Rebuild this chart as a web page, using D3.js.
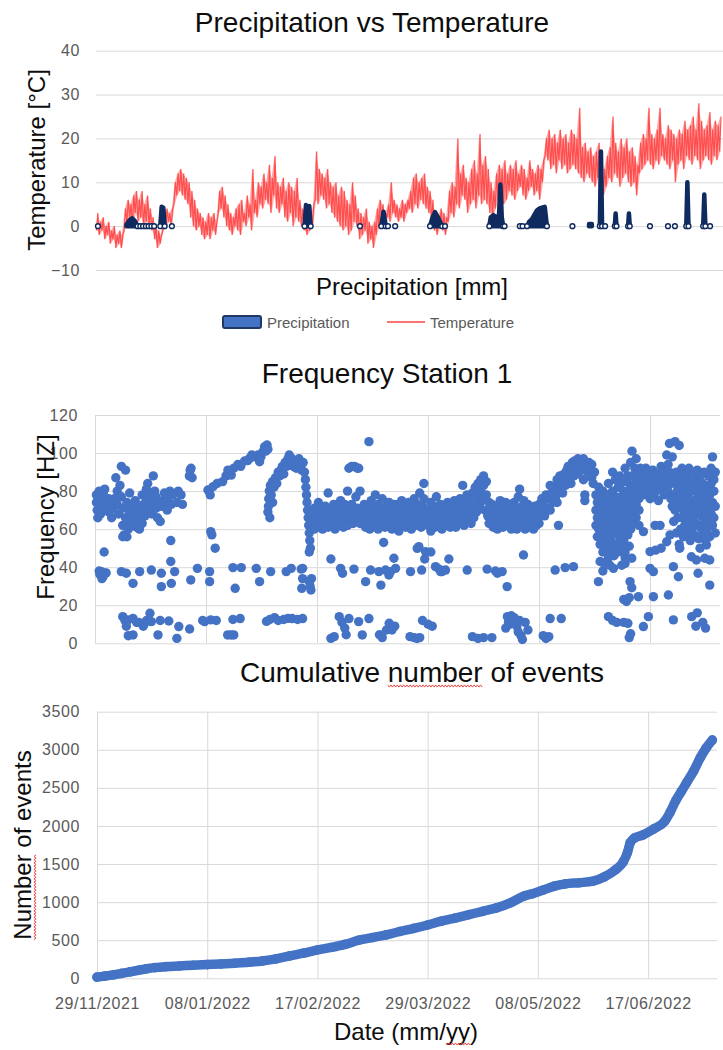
<!DOCTYPE html>
<html>
<head>
<meta charset="utf-8">
<script src="https://cdn.jsdelivr.net/npm/d3@7"></script>
<style>
  body { margin: 0; background: #fff; }
  svg { display: block; }
</style>
</head>
<body>
<div id="chart"></div>
<script>
var startDate = new Date(2021, 10, 29);

// daily temperature range (°C), one value per day from 29/11/2021
var tempLow = [
  -1,-2,-1,-3,-2,-4,-3,-5,-4,-5,  -1,1,2,0,3,1,2,0,1,0,  -1,-3,-5,-4,-1,0,1,0,5,7,
  8,7,6,5,2,0,-1,0,-2,-3,  -2,-3,-1,-2,3,4,2,0,-1,-2,  0,-1,-2,1,0,2,-1,3,2,5,
  4,6,5,3,7,4,3,5,2,1,  3,0,2,1,0,-1,-2,-1,0,6,  5,7,6,4,5,3,2,1,0,-1,
  0,-2,-1,1,0,-3,-2,-1,-4,-3,  -5,-2,0,1,0,2,1,3,2,1,  2,1,3,4,3,5,4,6,5,4,
  3,1,-1,-2,0,-1,-2,1,3,2,  5,4,7,6,3,5,6,4,7,5,  6,5,3,2,4,6,7,5,6,8,
  7,6,8,9,7,6,8,9,7,8,  6,10,16,15,13,14,12,15,13,14,  12,13,14,13,12,11,10,12,11,10,
  9,11,8,7,9,11,10,12,11,9,  11,12,10,9,10,7,12,13,14,15,  14,13,15,14,16,15,14,13,15,10,
  14,15,13,16,15,14,16,15,13,15,  16,15,14,16,15,17
];
var tempHigh = [
  3,1,2,0,1,-1,0,-2,-1,-2,  4,6,5,7,8,6,8,5,7,4,  2,0,-1,-2,3,4,3,4,10,12,
  13,12,11,10,8,6,4,3,2,1,  3,2,3,1,8,9,7,5,3,2,  4,5,6,3,7,5,13,6,10,9,
  12,10,14,11,16,10,9,11,8,10,  9,8,11,6,4,3,2,1,5,17,  13,12,11,13,10,9,10,7,9,8,
  6,5,10,7,4,3,2,4,1,0,  1,4,6,5,3,5,10,6,5,4,  6,5,6,8,11,12,10,11,12,9,
  8,6,3,2,4,3,2,8,10,9,  20,12,14,11,10,13,15,12,21,14,  16,13,10,8,12,14,13,15,12,14,
  13,15,12,14,13,11,15,13,12,14,  13,15,20,22,20,21,19,22,20,21,  19,22,21,20,27,18,19,17,18,16,
  17,19,15,13,16,18,25,19,17,20,  18,20,17,18,16,14,19,21,20,27,  21,20,22,27,21,20,23,22,21,20,
  22,21,24,22,23,25,22,28,24,22,  23,26,22,24,23,25
];

// precipitation readings [day, mm]
var precipitation = [
  [0.7,0],
  [11,0.3],[12,1.3],[13,1.8],[14,1.2],[15,0],[16,0],[17,0],[18,0],[19,0],[20,0],[21,0],
  [23.2,0],[23.7,4.4],[24.3,4.2],[24.8,0],
  [27.4,0],
  [75.3,0],[75.8,4.8],[77,4.6],[77.5,0],
  [95.3,0],
  [103,0],[103.8,3.3],[104.6,0],[105.4,0],
  [108,0],
  [120.6,0],[121.5,2],[122.4,3.2],[123.3,2.2],[124.2,1],[125,0],[126,0],
  [142,0],[142.5,2],[143.5,2.5],[144.5,2],[145.5,2.5],[146,9.5],[146.5,2],[147,0],[147.5,0],
  [153,0],[154,0],
  [155.6,0],[156.4,1],[157.3,1.5],[158.2,2.5],[159.1,3.5],[160,4],[161,4.2],[162,4.4],[162.8,0],
  [172,0],
  [178,0.5],[179,0.5],
  [181.9,0],[182.3,17],[182.7,0],[183.8,0],
  [187.3,0],[187.6,2.9],[187.9,0],
  [192.1,0],[192.4,2.9],[192.7,0],
  [200,0],
  [206.5,0],[209,0],
  [213.1,0],[213.5,10],[213.9,0],
  [219.2,0],[219.6,7.2],[220,0],[221.7,0]
];

// station 1 frequency readings [day, Hz]
var freqUpper = [
  [0.5,78],[0.5,74],[0.8,70],[1,66],[1.2,76],[1.5,80],[2,72],[2,68],[2.5,77],[3,73],[3,79],[3.5,81],[4,75],[4.5,70],[5,76],[5,69],[5.5,73],[6,66],[6.5,71],[7,76],
  [7.5,87],[8,80],[8,73],[8.5,68],[9,83],[9.5,93],[9.5,77],[10,71],[10,62],[10.5,57],[11,91],[11,66],[11.5,56],[11.5,74],[12,60],[12,64],[12.5,69],[12.5,79],
  [13,72],[13,62],[13.5,67],[14,70],[14,64],[14.5,75],[15,61],[15,68],[15.5,72],[16,60],[16,66],[16.5,70],[17,78],[17,63],[17.5,73],[18,67],[18.5,81],[18.5,75],
  [19,84],[19,70],[19.5,78],[20,76],[20,72],[20.5,68],[21,88],[21,74],[21.5,80],[22,71],[22,77],[22.5,66],[23,73],[23.5,64],[24,72],[24.5,75],[25,79],[25.5,74],
  [26,70],[26.5,77],[27,80],[27.5,73],[28,78],[29.5,74],[30,80],[31,78],[31.5,73],[34,88],[34.3,91],[34.6,92],[35,87],
  [3.3,48],[10,56],[27.3,54],[41.7,58.7],[42.1,57],[43.3,50],
  [40.7,80.6],[41.5,78],[42.5,82.3],[44,84],[46,85],[47.2,88],[47.9,91],[49.1,88.4],[50,92],[51.5,94],[52.5,93],[53.9,95.8],[55,96],[55.7,97.2],[56.5,99],
  [57.5,98],[58.7,99],[59.3,95.4],[59.8,98],[60.5,100.7],[61.1,103.3],[61.5,101],[62,104.2],[62.3,102],
  [62.3,69],[62.5,72],[62.6,76],[62.8,80],[63,66],[63.2,83],[63.5,78],[64,85],[64,74],[64.5,82],[65,87],[65.5,84],[66,90],[66.5,88],[67,91],[67.5,93],[68,89],
  [68.5,95],[69,93],[69.5,97],[70,99],[70.5,95],[71,97],[71.5,93],[72,96],[72.5,92],[73,95],[73.5,97],[74,93],[74.5,91],[75,95],[75.5,90],[75.8,86],[76,82],
  [76.2,78],[76.4,74],[76.6,70],[76.8,66],[77,62],[77.2,58],[77.4,54],[77.6,50],
  [78,62],[78,68],[78.5,65],[79,60],[79,71],[79.5,66],[80,63],[80,69],[80.5,74],[81,61],[81,67],[81.5,64],[82,70],[82,60],[82.5,66],[83,63],[83,72],[83.5,68],
  [84,79],[84,61],[84.5,65],[85,70],[85,62],[85.5,67],[86,73],[86,64],[86.5,60],[87,69],[87,65],[87.5,72],[88,62],[88,67],[88.5,75],[89,64],[89,70],[89.5,61],
  [90,68],[90,73],[90.5,65],[91,80],[91,62],[91.5,70],[91.5,92],[92,66],[92.5,93],[92.5,73],[93,63],[93.5,69],[93.5,93],[94,77],[94,65],[94.5,71],[94.5,92],
  [95,67],[95,92],[95.5,80],[95.5,63],[96,70],[96.5,66],[97,73],[98.7,106],
  [97.5,61],[98,67],[98,72],[98.5,64],[99,69],[99,60],[99.5,75],[100,66],[100,62],[100.5,71],[101,78],[101,64],[101.5,68],[102,60],[102,73],[102.5,66],
  [103,70],[103,63],[103.5,76],[104,67],[104,53],[104.5,61],[105,72],[105,65],[105.5,69],[106,62],[106,74],[106.5,66],[107,70],[107,60],[107.5,64],[108,68],
  [108,73],[108.5,62],[109,66],[109,71],[109.5,59],[110,64],[110,69],[110.5,75],[111,62],[111,67],[111.5,72],[112,65],[112,61],[112.5,69],[113,74],[113,63],
  [113.5,67],[114,71],[114,60],[114.5,65],[115,70],[115,76],[115.5,62],[116,68],[116,73],[116.5,64],[117,79],[117,69],[117.5,61],[118,72],[118,66],[118.5,84],
  [118.5,76],[119,63],[119,70],[119.5,67],
  [120,62],[120,70],[120.5,66],[121,74],[121,59],[121.5,68],[122,64],[122,72],[122.5,61],[123,67],[123,77],[123.5,70],[124,63],[124,66],[124.5,73],[125,60],
  [125,69],[125.5,65],[126,71],[126,62],[126.5,67],[127,74],[127,64],[127.5,69],[128,61],[128,72],[128.5,66],[129,70],[129,63],[129.5,75],[130,67],[130,61],
  [130.5,72],[131,65],[131,69],[131.5,76],[132,63],[132,71],[132.5,83],[132.5,67],[133,74],[133,62],[133.5,69],[134,78],[134,65],[134.5,72],[135,68],[135,75],
  [135.5,63],[136,79],[136,70],[136.5,66],[137,74],[137,82],[137.5,69],[138,77],[138,84],[138.5,72],[139,80],[139,86],[139.5,75],[140,83],[140,88],[140.5,70],
  [141,78],[141,85],[141.5,67],[142,74],[142,63],[142.5,70],[143,66],[143,73],[143.5,61],[144,69],[144,64],[144.5,72],[145,67],[145,60],[145.5,70],[146,63],
  [146,75],[146.5,66],[147,61],[147,71],[147.5,68],[148,64],[148,74],[148.5,70],[149,62],[149,67],[149.5,73],[150,65],[150,60],
  [150.5,70],[151,63],[151,74],[151.5,67],[152,60],[152,71],[152.5,77],[153,64],[153,81],[153.5,68],[154,72],[154,62],[154.5,75],[155,66],[155,60],[155.5,70],
  [156,63],[156,73],[156.5,67],[157,61],[157,70],[157.5,64],[158,68],[158,60],[158.5,72],[159,65],[159,62],[159.5,69],[160,63],[160,73],[160.5,67],[161,70],
  [161,76],[161.5,73],[162,67],[162.5,78],[163,71],[163.5,76],[164,83],[164,70],[164.5,79],[165,74],[165.5,82],[166,77],[166.5,86],[166.5,74],[167,62],[167,81],
  [167.5,88],[168,84],[168.5,79],[169,89],[169.5,83],[170,91],[170,86],[170.5,93],[171,88],[171.5,84],[172,91],[172,95],[172.5,88],[173,96],[173.5,92],[174,97],
  [174,89],[174.5,94],[175,96],[175.5,91],[176,97],[176,86],[176.5,78],[176.5,75],[177,94],[177.5,90],[178,95],[178.5,92],[179,94],[179,87],[179.5,84],[180,90],
  [180.5,62],[180.5,70],[180.5,78],[181,56],[181,66],[181,74],[181.5,60],[181.5,82],[182,52],[182,64],[182,70],[182,77],[182.5,58],[183,48],[183,62],[183,68],
  [183,74],[183,80],[183.5,55],[184,51],[184,60],[184,66],[184,72],[184.5,78],[185,47],[185,57],[185,63],[185,69],[185,84],[185.5,75],[186,50],[186,54],
  [186,61],[186,67],[186,73],[186.5,80],[186.5,90],[187,46],[187,58],[187,64],[187,70],[187.5,77],[187.5,86],[188,52],[188,60],[188,67],[188,74],[188.5,82],
  [188.5,48],[189,56],[189,63],[189,70],[189,88],[189.5,77],[189.5,84],[190,50],[190,59],[190,66],[190,73],[190.5,80],[190.5,54],[191,45],[191,62],[191,69],
  [191,92],[191.5,76],[191.5,85],[192,57],[192,64],[192,72],[192,88],[192.5,51],[192.5,79],[193,60],[193,67],[193,82],[193,95],[193.5,101],[193.5,74],[193.5,88],
  [194,63],[194,70],[194,78],[194.5,92],[194.5,84],[195,97],[195,66],[195,73],[195.5,80],[195.5,88],[196,70],[196,62],[196,76],[196.5,86],[196.5,92],
  [197,84],[197,90],[197.5,78],[198,88],[198,82],[198.5,92],[199,86],[199,79],[199.5,90],[200,84],[200,76],[200.5,88],[201,82],[201,91],[201.5,77],[202,86],
  [202,80],[202.5,89],[203,84],[203,75],[203.5,88],[204,81],[204,93],[204.5,86],[205,78],[205,90],[205.5,84],[206,99],[206,88],[206.5,80],[206.5,94],[207,105],
  [207,90],[207.5,84],[207.5,76],[208,98],[208,88],[208,72],
  [197.6,58.7],[201.8,62],[203.6,62],[200,48.2],[202,49],[204,50],[206,53.4],[207.2,57],
  [208.5,78],[208.5,64],[209,106],[209,84],[209,70],[209.5,58],[209.5,90],[210,75],[210,66],[210,81],[210.5,104],[210.5,52],[210.5,87],[211,60],[211,72],[211,78],
  [211.5,92],[211.5,66],[212,56],[212,84],[212,70],[212.5,62],[212.5,76],[212.5,90],[213,81],[213,67],[213.5,58],[213.5,73],[213.5,87],[214,63],[214,79],[214,92],
  [214.5,69],[214.5,54],[215,84],[215,75],[215,60],[215.5,66],[215.5,90],[216,72],[216,80],[216,57],[216.5,86],[216.5,63],[217,69],[217,76],[217,91],[217.5,82],
  [217.5,55],[218,61],[218,73],[218,88],[218.5,67],[218.5,79],[219,58],[219,84],[219,72],[219.5,64],[219.5,90],[220,76],[220,68],[220,54],[220.5,82],[220.5,60],
  [221,88],[221,72],[221,64],[221.5,78],[221.5,56],[222,84],[222,68],[222,92],[222.5,74],[222.5,98],[222.5,62],[223,80],[223,86],[223,66],[223.5,72],[223.5,58],
  [223.5,90],[210.7,50],[220.3,51.7],[218,50]
];
var freqMiddle = [
  [1.5,38],[1.7,36.3],[2.3,37.7],[2.5,34],[2.9,35],[3.5,36.8],[4,37],[9.5,37.7],[11.3,36.8],[13.7,31.5],[16.1,37.7],[20.3,38.5],[23.9,36.8],[23.9,29.8],
  [27.3,43],[27.5,31.5],[28.7,37.7],[34.5,33.3],[36.9,39.4],[41.3,37.7],[41.3,32.4],[49.7,39.8],[52.7,39.8],[50.5,28.9],[58.1,39.4],[59.3,32.4],[63.3,37.7],
  [68.9,37.7],[70.7,39.4],[74.3,39],[74.5,28.9],
  [74.8,39.4],[74.8,34],[77.2,32.4],[77.8,28],[77.5,30],[78,34],[77.2,48],[85,44.3],[88.5,39.4],[89.2,36.8],[93.3,39],[97.5,32.4],[99.3,38.5],[102.3,37.7],
  [103,30.6],[104.7,38.5],[105.9,35.9],[106.5,37.7],[107.7,44.7],[108.3,39.4],[113.7,37.7],[116.1,49.9],[116.7,50.8],[117.7,38.5],[118.8,44.3],[119.1,48.2],
  [121,48],[122.7,40.3],[124,39],[124.5,37.7],[125,37.7],[126.3,38.5],[127.5,44.3],[134.1,38.5],[141.3,39],[144.3,38],[145,36.8],[146.7,37.7],[148.5,29.8],
  [154.4,46.4],[165.8,38.5],[169.4,39.8],[172.4,40.3],
  [181.4,32.4],[182,43],[183,38],[183.8,41],[184.4,43],[185,45],[185.5,41],[186.8,39.4],[189.8,41],[191,42],[191,48],[193.4,44.7],[192.8,32.4],[193.4,29.2],
  [190.5,23],[191.5,22],[192.5,24],[195.8,24.5],[201.2,24.5],[206.6,25.4],[200,39.4],[201.2,37.7],[208.4,40.3],[210.2,35],[214.9,45.5],[216.7,43.8],
  [217.3,36.8],[219.7,44.7],[221.5,43.8],[221.5,30.6]
];
var freqLower = [
  [10,14],[10.8,12],[11.3,9],[11.9,12.3],[12,4],[13.7,13.1],[13.7,4.4],[15,11],[15.8,11],[17.4,9],[17.9,10.5],[18.6,12],[19.8,15.8],[20.3,11.4],[22.7,4.4],
  [23.5,12],[26.6,11.7],[29.5,2.6],[30.2,8.8],[34.1,7.5],[38.8,12],[39.5,11.4],[41.7,12.3],[43.7,12],[47.8,4.4],[49,4.4],[50,4.4],[49.7,12.5],[52.3,13],
  [61.8,11.5],[63,12.5],[64.7,13.5],[66,12],[68,12.5],[69.5,13.1],[71,13],[73,12.5],
  [74.8,13],[85,2.6],[86.2,3.5],[88,14],[89,11],[90,8],[90.5,4.5],[91.5,13],[95,11.4],[96.3,4.4],[98.7,13],[102.5,4.5],[103.5,3],[105,7],[106,10.5],[107,7],
  [108,9],[113.5,3.5],[115,3],[116,2.5],[117,3],[118,12],[120,10],[121.5,9],[136,3.5],[138,2.5],[140,3],[143,3],[148,8],[149,11],[150,14.5],
  [148.6,14],[149.5,10],[151,13.5],[152,9],[152.5,6],[153,12],[153.5,4],[154,2],[155,11],[156,7],[161.5,4],[162.5,2.5],[163.5,3.5],[164,13],[168,13],
  [185,14],[186.5,12],[188,11],[190.5,11],[192,10.5],[192.5,3],[193,5],[197.6,8.8],[199.4,14],[208.4,12.3],[215,14],[217,16],[216.5,9],[219,11],[220,8]
];

// cumulative number of events
var cumDays = [0,3,6,9,12,15,18,21,25,30,35,40,45,50,55,60,65,70,75,80,85,90,95,100,105,110,115,120,125,130,135,140,145,150,155,158,
  162,166,170,175,180,184,188,191,192.5,193.5,195,198,202,206,208,210,212,214,216.5,219,221,223.3];
var cumEvents = [15,30,45,65,85,105,125,140,153,162,172,180,188,198,210,228,255,295,330,372,405,445,500,535,570,615,655,700,750,790,835,880,925,990,1080,1110,
  1160,1210,1240,1255,1275,1330,1420,1530,1650,1780,1840,1880,1960,2060,2180,2330,2450,2570,2720,2900,3020,3128];

var tempTicks = [-10, 0, 10, 20, 30, 40];
var freqTicks = [0, 20, 40, 60, 80, 100, 120];
var eventTicks = [0, 500, 1000, 1500, 2000, 2500, 3000, 3500];
var gridDays = [0, 40, 80, 120, 160, 200];

var font = "'Liberation Sans', Arial, sans-serif";
var gridColor = "#d9d9d9";
var labelColor = "#595959";

function dayToDate(d) {
  return new Date(startDate.getTime() + d * 86400000);
}

var svg = d3.select("#chart")
  .append("svg")
  .attr("width", 723)
  .attr("height", 1050)
  .attr("font-family", font);

function styleAxis(g) {
  g.attr("font-size", 16).attr("font-family", font);
  g.select(".domain").remove();
  g.selectAll(".tick line").attr("stroke", gridColor);
  g.selectAll(".tick text").attr("fill", labelColor).attr("letter-spacing", "0.6px");
}

function title(text, x, y) {
  return svg.append("text")
    .attr("x", x).attr("y", y)
    .attr("text-anchor", "middle")
    .attr("font-size", 28)
    .attr("fill", "#0d0d0d")
    .text(text);
}

function yTitle(text, x, y) {
  var g = svg.append("g").attr("transform", `translate(${x},${y}) rotate(-90)`);
  var t = g.append("text")
    .attr("text-anchor", "middle")
    .attr("font-size", 24)
    .attr("fill", "#0d0d0d")
    .text(text);
  return {g: g, t: t};
}

// red spell-check squiggle under part of a text
function squiggle(parent, textNode, first, count) {
  var a = textNode.getStartPositionOfChar(first);
  var b = textNode.getEndPositionOfChar(first + count - 1);
  var pts = [];
  for (var i = 0; a.x + i * 1.6 <= b.x; i++) {
    pts.push([a.x + i * 1.6, a.y + 4 + (i % 2 ? 1.1 : -1.1)]);
  }
  parent.append("path")
    .attr("d", d3.line()(pts))
    .attr("fill", "none")
    .attr("stroke", "#e53935")
    .attr("stroke-width", 0.9);
}

// ---------- Precipitation vs Temperature
var x1 = d3.scaleTime().domain([startDate, dayToDate(226)]).range([96, 722]);
var y1 = d3.scaleLinear().domain([-10, 40]).range([270, 50.7]);

svg.append("g")
  .attr("transform", "translate(96,0)")
  .call(d3.axisLeft(y1).tickValues(tempTicks).tickSize(-(723 - 96)).tickPadding(16).tickFormat(d3.format("d")))
  .call(styleAxis);

// daily spread, then the zig-zag between daily lows and highs
svg.append("path")
  .datum(tempLow)
  .attr("fill", "#ff4444")
  .attr("fill-opacity", 0.45)
  .attr("d", d3.area()
    .x((d, i) => x1(dayToDate(i + 0.4)))
    .y0(d => y1(d))
    .y1((d, i) => y1(tempHigh[i])));

var tempPoints = [];
tempLow.forEach(function(lo, i) {
  tempPoints.push([i + 0.15, lo]);
  tempPoints.push([i + 0.65, tempHigh[i]]);
});

svg.append("path")
  .datum(tempPoints)
  .attr("fill", "none")
  .attr("stroke", "#ff4444")
  .attr("stroke-width", 1.2)
  .attr("stroke-opacity", 0.9)
  .attr("d", d3.line().x(d => x1(dayToDate(d[0]))).y(d => y1(d[1])));

// split precipitation into runs of consecutive readings
var runs = [];
precipitation.forEach(function(p, i) {
  if (i === 0 || p[0] - precipitation[i - 1][0] > 1.05) runs.push([]);
  runs[runs.length - 1].push(p);
});

var navy = "#0e2a5e";
svg.append("g")
  .selectAll("path")
  .data(runs.filter(r => r.length > 1))
  .join("path")
  .attr("fill", navy)
  .attr("stroke", navy)
  .attr("stroke-width", 4.5)
  .attr("stroke-linejoin", "round")
  .attr("stroke-linecap", "round")
  .attr("d", d3.area().x(d => x1(dayToDate(d[0]))).y0(y1(0)).y1(d => y1(d[1])));

svg.append("g")
  .selectAll("circle")
  .data(precipitation.filter(p => p[1] === 0))
  .join("circle")
  .attr("cx", d => x1(dayToDate(d[0])))
  .attr("cy", d => y1(d[1]))
  .attr("r", 2.4)
  .attr("fill", "#ffffff")
  .attr("stroke", navy)
  .attr("stroke-width", 1.4);

title("Precipitation vs Temperature", 372, 32);
yTitle("Temperature [°C]", 45, 160);

svg.append("text")
  .attr("x", 412).attr("y", 295)
  .attr("text-anchor", "middle")
  .attr("font-size", 24)
  .attr("fill", "#0d0d0d")
  .text("Precipitation [mm]");

// legend
svg.append("rect")
  .attr("x", 223).attr("y", 316)
  .attr("width", 38).attr("height", 12)
  .attr("rx", 2)
  .attr("fill", "#4472c4")
  .attr("stroke", "#1f3864")
  .attr("stroke-width", 2);
svg.append("text")
  .attr("x", 267).attr("y", 328)
  .attr("font-size", 15)
  .attr("fill", labelColor)
  .text("Precipitation");
svg.append("line")
  .attr("x1", 387).attr("x2", 425)
  .attr("y1", 322).attr("y2", 322)
  .attr("stroke", "#ff4444")
  .attr("stroke-width", 1.5);
svg.append("text")
  .attr("x", 430).attr("y", 328)
  .attr("font-size", 15)
  .attr("fill", labelColor)
  .text("Temperature");

// ---------- Frequency Station 1
var x2 = d3.scaleTime().domain([startDate, dayToDate(225.2)]).range([95, 720]);
var y2 = d3.scaleLinear().domain([0, 120]).range([643.3, 415]);

svg.append("g")
  .attr("transform", "translate(95,0)")
  .call(d3.axisLeft(y2).tickValues(freqTicks).tickSize(-(720 - 95)).tickPadding(17).tickFormat(d3.format("d")))
  .call(styleAxis);

svg.append("g")
  .attr("transform", "translate(0,643.3)")
  .call(d3.axisBottom(x2).tickValues(gridDays.map(dayToDate)).tickSize(-(643.3 - 415)).tickFormat(""))
  .call(styleAxis);

svg.append("g")
  .selectAll("circle")
  .data(freqUpper.concat(freqMiddle, freqLower))
  .join("circle")
  .attr("cx", d => x2(dayToDate(d[0])))
  .attr("cy", d => y2(d[1]))
  .attr("r", 4.7)
  .attr("fill", "#4472c4");

title("Frequency Station 1", 387, 383);
yTitle("Frequency [HZ]", 54, 517);

// ---------- Cumulative number of events
var x3 = d3.scaleTime().domain([startDate, dayToDate(225)]).range([97, 717]);
var y3 = d3.scaleLinear().domain([0, 3500]).range([978.3, 711.7]);

svg.append("g")
  .attr("transform", "translate(97,0)")
  .call(d3.axisLeft(y3).tickValues(eventTicks).tickSize(-(717 - 97)).tickPadding(17).tickFormat(d3.format("d")))
  .call(styleAxis);

svg.append("g")
  .attr("transform", "translate(0,978.3)")
  .call(d3.axisBottom(x3).tickValues(gridDays.map(dayToDate)).tickSize(-(978.3 - 711.7)).tickPadding(19)
    .tickFormat(d3.timeFormat("%d/%m/%Y")))
  .call(styleAxis);

var cumData = cumDays.map((d, i) => [d, cumEvents[i]]);

svg.append("path")
  .datum(cumData)
  .attr("fill", "none")
  .attr("stroke", "#4472c4")
  .attr("stroke-width", 9.5)
  .attr("stroke-linecap", "round")
  .attr("stroke-linejoin", "round")
  .attr("d", d3.line().curve(d3.curveMonotoneX).x(d => x3(dayToDate(d[0]))).y(d => y3(d[1])));

svg.append("g")
  .selectAll("circle")
  .data(cumData)
  .join("circle")
  .attr("cx", d => x3(dayToDate(d[0])))
  .attr("cy", d => y3(d[1]))
  .attr("r", 4.8)
  .attr("fill", "#4472c4");

var t3 = title("Cumulative number of events", 422, 682);
squiggle(svg, t3.node(), 11, 6);

var yt3 = yTitle("Number of events", 31, 845);
squiggle(yt3.g, yt3.t.node(), 0, 6);

var xt3 = svg.append("text")
  .attr("x", 406).attr("y", 1040)
  .attr("text-anchor", "middle")
  .attr("font-size", 24)
  .attr("fill", "#0d0d0d")
  .text("Date (mm/yy)");
squiggle(svg, xt3.node(), 9, 2);
</script>
</body>
</html>
